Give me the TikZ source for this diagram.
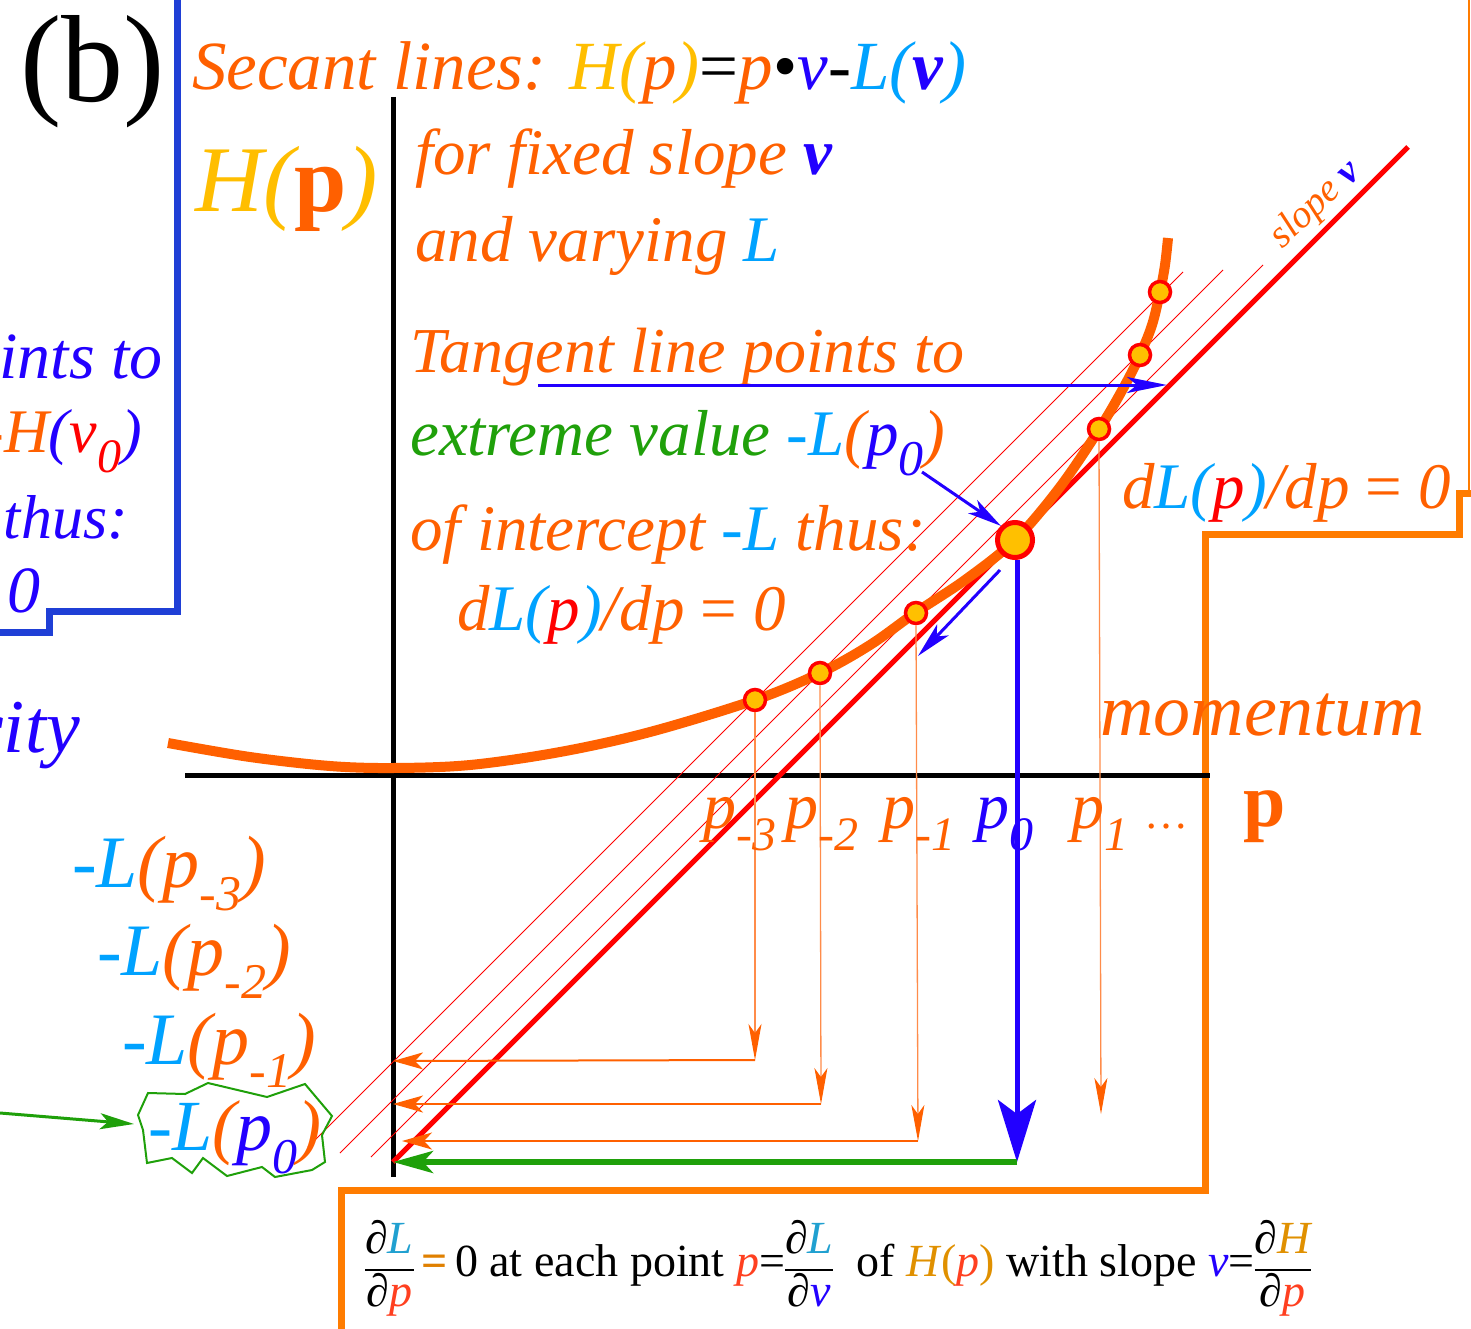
\documentclass[tikz,border=0pt]{standalone}
\usepackage{fontspec}
\setmainfont{LiberationSerif}[Extension=.ttf, UprightFont=*-Regular, ItalicFont=*-Italic, BoldFont=*-Bold, BoldItalicFont=*-BoldItalic]
\usetikzlibrary{arrows.meta}
\definecolor{co}{HTML}{FF6000}
\definecolor{cg}{HTML}{FFBE00}
\definecolor{cl}{HTML}{00A2FF}
\definecolor{cv}{HTML}{2200FF}
\definecolor{cgr}{HTML}{1FA00A}
\definecolor{cfb}{HTML}{1F3FD6}
\definecolor{cfo}{HTML}{FF7C00}
\definecolor{cla}{HTML}{FF8C4A}
\definecolor{cr}{HTML}{FF0000}
\definecolor{cyb}{HTML}{FFC000}
\definecolor{cLb}{HTML}{20A0D0}
\definecolor{cP}{HTML}{FF4020}
\definecolor{cEq}{HTML}{E08000}
\definecolor{cHb}{HTML}{E09000}
\newcommand\fsz[1]{\fontsize{#1}{#1}\selectfont}
\newcommand\sbs[2]{\raisebox{-#2pt}{#1}}
\newcommand\frc[2]{\begin{tabular}[c]{@{}c@{}}#1\\\hline #2\end{tabular}}
\begin{document}
\begin{tikzpicture}[x=1pt,y=-1pt,
  secant/.style={cr, line width=1pt},
  drop/.style={cla, line width=1.3pt, -{Stealth[length=36pt,width=13pt,inset=9pt,color=co]}},
  back/.style={co, line width=2pt, -{Stealth[length=30pt,width=17pt,inset=8pt]}},
  dot/.style={circle, fill=cyb, draw=cr, line width=3.5pt, minimum size=21pt, inner sep=0},
  bigdot/.style={circle, fill=cyb, draw=cr, line width=5pt, minimum size=35pt, inner sep=0},
  lab/.style={anchor=base west, inner sep=0},
  labr/.style={anchor=base east, inner sep=0},
]
\useasboundingbox (0,0) rectangle (1471,1329);

% frames
\draw[cfb, line width=7pt] (177,0) -- (177,611) -- (49,611) -- (49,632) -- (-10,632);
\draw[cfo, line width=2pt] (1469,0) -- (1469,492);
\draw[cfo, line width=7pt] (1475,493) -- (1459,493) -- (1459,534) -- (1205,534) -- (1205,1190) -- (341,1190) -- (341,1335);

% label (b)
\node[inner sep=0] (b) at (93,72) {\fsz{124}(b)};

% axes
\coordinate (ytop) at (393,97);
\coordinate (ybot) at (393,1177);
\coordinate (xl) at (185,775);
\coordinate (xr) at (1210,775);
\draw[black, line width=5pt] (ytop) -- (ybot);
\draw[black, line width=5pt] (xl) -- (xr);

% secant and tangent lines
\coordinate (A0) at (308,1147); \coordinate (A1) at (1183,272);
\coordinate (B0) at (340,1153); \coordinate (B1) at (1223,270);
\coordinate (C0) at (371,1157); \coordinate (C1) at (1263,265);
\coordinate (T0) at (393,1162); \coordinate (T1) at (1408,147);
\draw[secant] (A0) -- (A1);
\draw[secant] (B0) -- (B1);
\draw[secant] (C0) -- (C1);
\draw[cr, line width=5pt] (T0) -- (T1);

% curve H(p)
\draw[co, line width=10pt] plot[smooth, tension=0.55] coordinates {(168,743) (250,757) (330,766) (393,768) (470,765) (560,752) (650,732) (755,700) (820,673) (870,645) (915,613) (965,580) (1015,540) (1060,487) (1100,428) (1125,385) (1140,355) (1152,325) (1160,292) (1165,265) (1168,238)};

% drop arrows
\coordinate (ym3) at (755,1060); \coordinate (ym2) at (821,1104); \coordinate (ym1) at (918,1141);
\coordinate (ay3) at (393,1061); \coordinate (ay2) at (393,1104); \coordinate (ay1) at (402,1141);
\coordinate (y1) at (1101,1114);
\coordinate (y0) at (1017,1162);

\node[dot] (dm3) at (755,700) {};
\node[dot] (dm2) at (820,673) {};
\node[dot] (dm1) at (916,613) {};
\node[dot] (d1) at (1099,429) {};
\node[dot] (d2) at (1140,355) {};
\node[dot] (d3) at (1160,292) {};

\draw[drop] (dm3.south) -- (ym3);
\draw[drop] (dm2.south) -- (ym2);
\draw[drop] (dm1.south) -- (ym1);
\draw[drop] (d1.south) -- (y1);
\draw[back] (ym3) -- (ay3);
\draw[back] (ym2) -- (ay2);
\draw[back] (ym1) -- (ay1);

\node[bigdot] (d0) at (1015,540) {};
\draw[cv, line width=5pt, -{Stealth[length=62pt,width=38pt,inset=14pt]}] (d0.south) ++(2,0) -- (y0);
\draw[cgr, line width=6pt, -{Stealth[length=40pt,width=22pt,inset=10pt]}] (y0) -- (T0);

% slope v label
\node[rotate=43, inner sep=0] (slope) at (1316,205) {\fsz{39}\itshape{\color{co}slope} {\color{cv}\bfseries v}};

% texts
\node[lab] (title) at (192,90) {\fsz{69}\itshape{\color{co}Secant lines: }{\color{cg}H(}{\color{co}p}{\color{cg})}{\upshape=}{\color{co}p}{\upshape\textbullet}{\color{cv}v}{\upshape -}{\color{cl}L(}{\color{cv}\bfseries v}{\color{cl})}};
\node[lab] (Hp) at (195,212) {\fsz{94}\itshape\color{cg}H({\upshape\bfseries\color{co}p})};
\node[lab] (t1) at (415,175) {\fsz{65}\itshape\color{co}for fixed slope {\color{cv}\bfseries v}};
\node[lab] (t2) at (415,262) {\fsz{65}\itshape\color{co}and varying {\color{cl}L}};
\node[lab] (t3) at (410,372) {\fsz{64}\itshape\color{co}Tangent line points to};
\node[lab] (t4) at (410,455) {\fsz{65}\itshape{\color{cgr}extreme value }{\color{cl}-L}{\color{co}(}{\color{cv}p\sbs{\fsz{50}0}{20}}{\color{co})}};
\node[lab] (t5) at (410,550) {\fsz{65}\itshape\color{co}of intercept {\color{cl}-L} thus:};
\node[lab] (t6) at (457,630) {\fsz{65}\itshape{\color{co}d}{\color{cl}L(}{\color{cr}p}{\color{cl})}{\color{co}/dp {\upshape=} 0}};
\node[lab] (t7) at (1122,508) {\fsz{65}\itshape{\color{co}d}{\color{cl}L(}{\color{cr}p}{\color{cl})}{\color{co}/dp {\upshape=} 0}};
\node[lab] (mom) at (1100,735) {\fsz{74}\itshape\color{co}momentum};
\node[lab] (pax) at (1243,826) {\fsz{76}\bfseries\color{co}p};

% p labels on axis
\node[lab] (pm3) at (703,828) {\fsz{66}\itshape\color{co}p\sbs{\fsz{48}-3}{22}};
\node[lab] (pm2) at (785,828) {\fsz{66}\itshape\color{co}p\sbs{\fsz{48}-2}{22}};
\node[lab] (pm1) at (882,828) {\fsz{66}\itshape\color{co}p\sbs{\fsz{48}-1}{22}};
\node[lab] (p0) at (976,828) {\fsz{66}\itshape\color{cv}p\sbs{\fsz{48}0}{22}};
\node[lab] (p1) at (1071,828) {\fsz{66}\itshape\color{co}p\sbs{\fsz{48}1}{22} \upshape\fsz{44}\dots};

% left -L labels
\node[lab] (Lm3) at (72,887) {\fsz{74}\itshape{\color{cl}-L}{\color{co}(p\sbs{\fsz{50}-3}{23})}};
\node[lab] (Lm2) at (97,975) {\fsz{74}\itshape{\color{cl}-L}{\color{co}(p\sbs{\fsz{50}-2}{23})}};
\node[lab] (Lm1) at (122,1064) {\fsz{74}\itshape{\color{cl}-L}{\color{co}(p\sbs{\fsz{50}-1}{23})}};
\node[lab] (L0) at (148,1150) {\fsz{72}\itshape{\color{cl}-L}{\color{co}(}{\color{cv}p\sbs{\fsz{50}0}{23}}{\color{co})}};
\draw[cgr, line width=2pt] (138,1115) -- (148,1093) -- (185,1094) -- (208,1083) -- (267,1097) -- (305,1084) -- (332,1116) -- (322,1135) -- (325,1162) -- (312,1170) -- (275,1177) -- (262,1167) -- (227,1176) -- (203,1158) -- (192,1173) -- (172,1158) -- (147,1163) -- (143,1130) -- cycle;
\coordinate (gA) at (0,1113);
\coordinate (gB) at (134,1124);
\draw[cgr, line width=3pt, -{Stealth[length=34pt,width=16pt,inset=8pt]}] (gA) -- (gB);

% left clipped blue texts
\node[labr] (lt1) at (163,378) {\fsz{66}\itshape\color{cv}points to};
\node[labr] (lt2) at (142,452) {\fsz{62}\itshape{\color{co}-H}{\color{cv}(}{\color{cr}v\sbs{\fsz{48}0}{20}}{\color{cv})}};
\node[labr] (lt3) at (128,538) {\fsz{62}\itshape\color{cv}thus:};
\node[labr] (lt4) at (41,612) {\fsz{66}\itshape\color{cv}0};
\node[labr] (lt5) at (80,752) {\fsz{76}\itshape\color{cv}velocity};

% blue arrows
\coordinate (u0) at (538,385);
\coordinate (u1) at (1167,385);
\draw[cv, line width=3pt, -{Stealth[length=40pt,width=16pt,inset=10pt]}] (u0) -- (u1);
\coordinate (k0) at (922,472);
\draw[cv, line width=3pt, -{Stealth[length=34pt,width=16pt,inset=9pt]}] (k0) -- (d0.north west);
\coordinate (m0) at (1000,570);
\coordinate (m1) at (918,656);
\draw[cv, line width=3pt, -{Stealth[length=36pt,width=16pt,inset=9pt]}] (m0) -- (m1);

% bottom formula
\node[lab] (formula) at (365,1276) {\fsz{46}\setlength\arrayrulewidth{2pt}\renewcommand\arraystretch{1.1}%
\frc{∂\textit{\color{cLb}L}}{∂\textit{\color{cP}p}}{\color{cEq}\bfseries\,=\,}0 at each point \textit{\color{cP}p}=\frc{∂\textit{\color{cLb}L}}{∂\textit{\color{cv}v}}\enspace of {\color{cHb}\textit{H}(}\textit{\color{cP}p}{\color{cHb})} with slope \textit{\color{cv}v}=\frc{∂\textit{\color{cHb}H}}{∂\textit{\color{cP}p}}};
\end{tikzpicture}
\end{document}
